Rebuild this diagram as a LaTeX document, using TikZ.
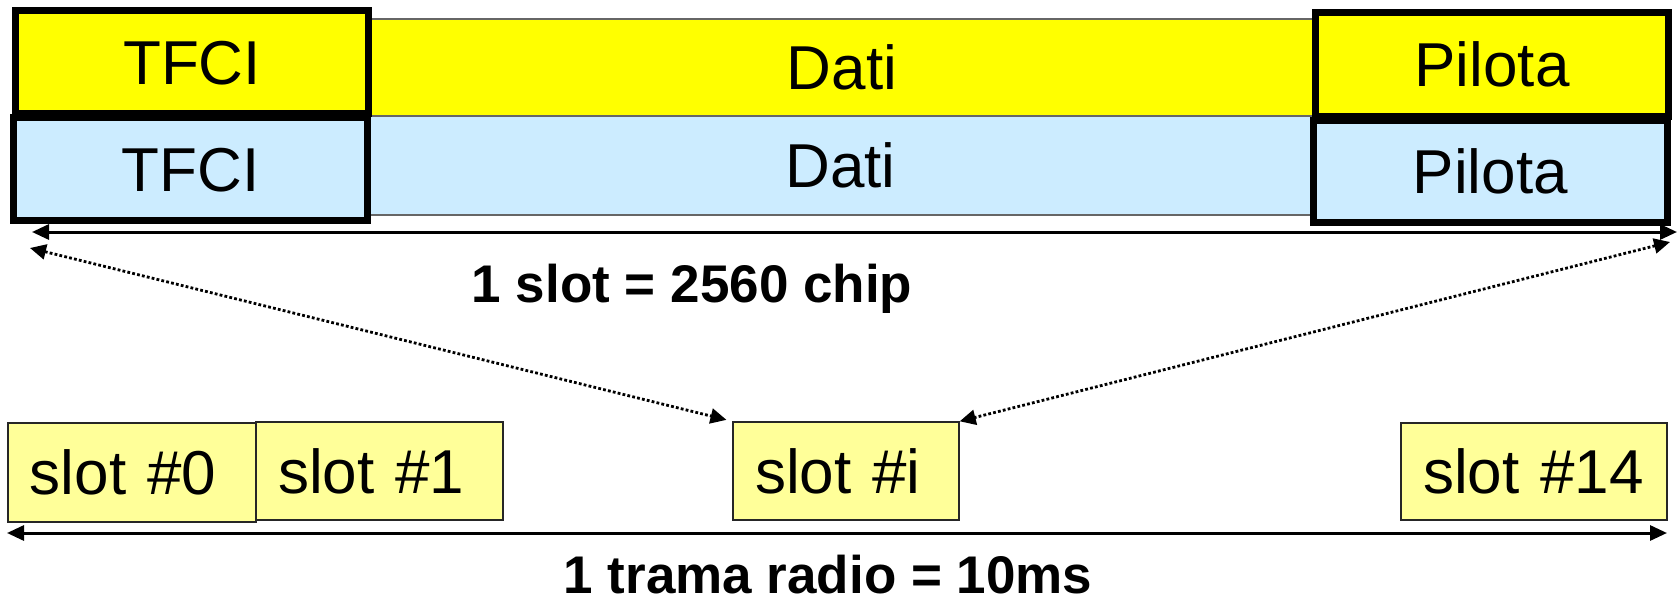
\documentclass[tikz,border=0pt]{standalone}
\usepackage{fontspec}
\setmainfont{Liberation Sans}
\usetikzlibrary{arrows.meta}
\definecolor{campoGiallo}{RGB}{255,255,0}
\definecolor{campoAzzurro}{RGB}{204,236,255}
\definecolor{slotGiallo}{RGB}{255,255,153}
\begin{document}
\begin{tikzpicture}[x=0.5pt, y=-0.5pt,
    campo/.style={rectangle, draw, line width=3.5pt, inner sep=0pt,
        font=\fontsize{31}{37}\selectfont, text height=22.3pt, text depth=0pt},
    dati/.style={rectangle, draw=black!60, line width=0.6pt, inner sep=0pt,
        font=\fontsize{31}{37}\selectfont, text height=22.3pt, text depth=0pt},
    slotbox/.style={rectangle, draw=black!85, line width=0.7pt, fill=slotGiallo,
        inner xsep=11pt, inner ysep=0pt, align=left,
        font=\fontsize{31}{37}\selectfont, text height=22.3pt, text depth=0pt},
    misura/.style={inner sep=0pt, font=\fontsize{26.5}{32}\selectfont\bfseries,
        text height=19pt, text depth=0pt},
    durata/.style={{Triangle[length=8.5pt, width=7.5pt]}-{Triangle[length=8.5pt, width=7.5pt]},
        line width=1.5pt},
    espansione/.style={{Triangle[length=8pt, width=7.5pt]}-{Triangle[length=8pt, width=7.5pt]},
        line width=1.4pt, dash pattern=on 1.4pt off 1.1pt}
]
\useasboundingbox (0,0) rectangle (1678,600);

% campi dello slot
\node (datiG) [dati, fill=campoGiallo, minimum width=474pt, minimum height=48.5pt] at (842,67.5) {Dati};
\node (datiA) [dati, fill=campoAzzurro, minimum width=473.5pt, minimum height=49.5pt] at (840.5,165.5) {Dati};
\node (tfciG) [campo, fill=campoGiallo, minimum width=176.5pt, minimum height=51.5pt] at (192,62) {TFCI};
\node (tfciA) [campo, fill=campoAzzurro, minimum width=177pt, minimum height=51.5pt] at (190.5,169) {TFCI};
\node (pilotaG) [campo, fill=campoGiallo, minimum width=176.5pt, minimum height=52pt] at (1492,64) {Pilota};
\node (pilotaA) [campo, fill=campoAzzurro, minimum width=177.25pt, minimum height=51pt] at (1490.25,171) {Pilota};

% slot della trama
\node (slot0) [slotbox, text width=102pt, minimum height=49.5pt] at (132,472.5) {slot \#0};
\node (slot1) [slotbox, text width=101.5pt, minimum height=49pt] at (379.5,471) {slot \#1};
\node (sloti) [slotbox, text width=91pt, minimum height=49pt] at (846,471) {slot \#i};
\node (slot14) [slotbox, text width=111pt, minimum height=48.5pt] at (1534,471.5) {slot \#14};

\node (lblSlot) [misura] at (692,283) {1 slot = 2560 chip};
\node (lblTrama) [misura] at (828,574) {1 trama radio = 10ms};

\coordinate (slotSx) at (32,232);
\coordinate (slotDx) at (1677,232);
\coordinate (tramaSx) at (7,533);
\coordinate (tramaDx) at (1667,533);
\coordinate (zoomSx) at (30,248);
\coordinate (zoomDx) at (1670,242);

\draw[durata] (slotSx) -- (slotDx);
\draw[durata] (tramaSx) -- (tramaDx);
\draw[espansione, shorten >=3pt] (zoomSx) -- (sloti.north west);
\draw[espansione] (zoomDx) -- (sloti.north east);

\end{tikzpicture}
\end{document}
